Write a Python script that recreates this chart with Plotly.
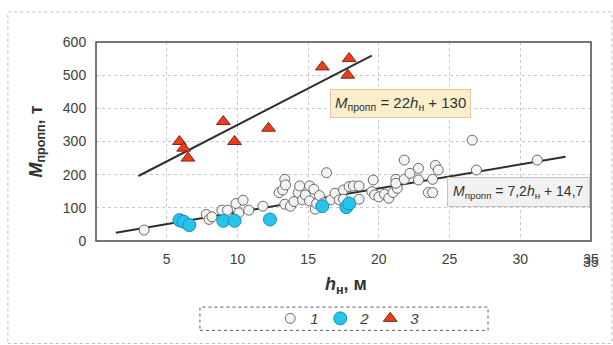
import plotly.graph_objects as go

# Series 1: white circles
s1_x = [3.4, 7.8, 8.0, 8.2, 8.9, 9.3, 9.9, 10.4, 10.1, 10.8, 11.8, 12.95, 13.2, 13.35, 13.4,
        13.35, 13.75, 14.0, 14.3, 14.4, 14.6, 14.8, 15.1, 15.1, 15.4, 15.5, 15.6, 15.8, 16.1,
        16.3, 16.6, 16.9, 17.2, 17.5, 17.5, 17.9, 18.2, 18.6, 18.6, 19.5, 19.6, 19.7, 20.0,
        20.4, 20.7, 21.0, 21.2, 21.3, 21.2, 21.8, 21.8, 22.2, 22.8, 22.8, 23.5, 23.8, 23.8,
        24.0, 24.2, 26.6, 26.9, 31.2]
s1_y = [33, 80, 65, 73, 93, 93, 113, 123, 85, 93, 105, 146, 154, 186, 169,
        111, 105, 119, 146, 166, 124, 139, 166, 121, 156, 96, 113, 137, 115,
        206, 124, 144, 124, 154, 126, 164, 166, 166, 126, 149, 184, 139, 133,
        141, 129, 146, 186, 159, 174, 186, 244, 204, 219, 184, 146, 146, 186,
        228, 214, 304, 214, 244]

# Series 2: blue circles
s2_x = [5.9, 6.2, 6.6, 9.0, 9.8, 12.3, 16.0, 17.7, 17.9]
s2_y = [63, 58, 48, 61, 61, 65, 105, 102, 113]

# Series 3: red triangles
s3_x = [5.9, 6.2, 6.5, 9.0, 9.8, 12.2, 16.0, 17.9, 17.8]
s3_y = [300, 280, 250, 360, 300, 340, 525, 550, 500]

# Trend lines: M = a*h + b
fit3_x = [3.0, 19.5]
fit3_a, fit3_b = 22, 130
fit1_x = [1.4, 33.2]
fit1_a, fit1_b = 7.2, 14.7

x_ticks = [5, 10, 15, 20, 25, 30, 35]
y_ticks = [0, 100, 200, 300, 400, 500, 600]
legend_names = ["1", "2", "3"]

fig = go.Figure()

fig.add_trace(go.Scatter(x=fit1_x, y=[fit1_a * v + fit1_b for v in fit1_x], mode="lines",
                         line=dict(color="#2e2e2e", width=2), showlegend=False, hoverinfo="skip"))
fig.add_trace(go.Scatter(x=fit3_x, y=[fit3_a * v + fit3_b for v in fit3_x], mode="lines",
                         line=dict(color="#2e2e2e", width=2), showlegend=False, hoverinfo="skip"))

fig.add_trace(go.Scatter(x=s1_x, y=s1_y, mode="markers", name=legend_names[0],
                         marker=dict(symbol="circle", size=10, color="#f3f3f3",
                                     line=dict(color="#6a6a6a", width=1))))
fig.add_trace(go.Scatter(x=s2_x, y=s2_y, mode="markers", name=legend_names[1],
                         marker=dict(symbol="circle", size=13, color="#27c3ea",
                                     line=dict(color="#1690b8", width=1))))
fig.add_trace(go.Scatter(x=s3_x, y=s3_y, mode="markers", name=legend_names[2],
                         marker=dict(symbol="triangle-up", size=12, color="#ee3b1b",
                                     line=dict(color="#7a2a1a", width=1))))

tick_font = dict(family="Arial", size=14, color="#404040")
axis_common = dict(showgrid=True, gridcolor="#c9c9c9", griddash="dot", gridwidth=1,
                   zeroline=False, showline=False, automargin=False,
                   ticklabeloverflow="allow", tickfont=tick_font)

fig.update_xaxes(range=[0, 35], tickvals=x_ticks, ticks="outside", ticklen=5,
                 tickcolor="rgba(0,0,0,0)", **axis_common)
fig.update_yaxes(range=[0, 600], tickvals=y_ticks, ticks="outside", ticklen=6,
                 tickcolor="rgba(0,0,0,0)", **axis_common)

# Last x tick label (the axis drops the label at the range edge)
fig.add_annotation(x=x_ticks[-1], y=-0.1055, xref="x", yref="paper", showarrow=False,
                   xanchor="center", yanchor="middle", text=str(x_ticks[-1]), font=tick_font)

# Plot frame
fig.add_shape(type="rect", xref="paper", yref="paper", x0=0, x1=1, y0=0, y1=1,
              line=dict(color="#4a4a4a", width=1.5))
# Outer dotted frame
fig.add_shape(type="rect", xref="paper", yref="paper", x0=-0.178, x1=1.042, y0=-0.515, y1=1.151,
              line=dict(color="#a9c6d6", width=1, dash="dot"), layer="below")
# Legend box
fig.add_shape(type="rect", xref="paper", yref="paper", x0=0.210, x1=0.792, y0=-0.449, y1=-0.332,
              line=dict(color="#5a5a5a", width=1, dash="dot"), fillcolor="white", layer="below")

# Equation boxes
fig.add_annotation(x=21.5, y=416, xref="x", yref="y", showarrow=False,
                   text="<i>M</i><sub>пропп</sub> = 22<i>h</i><sub>н</sub> + 130",
                   font=dict(family="Arial", size=15, color="#333333"),
                   bgcolor="#fbeecb", bordercolor="#dccb9f", borderwidth=1, borderpad=4)
fig.add_annotation(x=29.85, y=148, xref="x", yref="y", showarrow=False,
                   text="<i>M</i><sub>пропп</sub> = 7,2<i>h</i><sub>н</sub> + 14,7",
                   font=dict(family="Arial", size=14, color="#333333"),
                   bgcolor="#f1f1f1", bordercolor="#c4c4c4", borderwidth=1, borderpad=5)

# Axis titles
fig.add_annotation(x=-0.119, y=0.5, xref="paper", yref="paper", showarrow=False, textangle=-90,
                   xanchor="center", yanchor="middle",
                   text="<b><i>M</i></b><sub><b>пропп</b></sub><b>, т</b>",
                   font=dict(family="Arial", size=18, color="#333333"))
fig.add_annotation(x=0.505, y=-0.226, xref="paper", yref="paper", showarrow=False,
                   xanchor="center", yanchor="middle",
                   text="<b><i>h</i></b><sub><b>н</b></sub><b>, м</b>",
                   font=dict(family="Arial", size=18, color="#333333"))

fig.update_layout(
    width=613, height=345,
    margin=dict(l=96, r=22, t=42, b=104, autoexpand=False),
    paper_bgcolor="white", plot_bgcolor="white",
    showlegend=True,
    legend=dict(orientation="h", x=0.352, xanchor="left", y=-0.39, yanchor="middle",
                bgcolor="rgba(0,0,0,0)", borderwidth=0, entrywidth=5, itemwidth=30,
                font=dict(family="Arial", size=15, color="#444444", style="italic"),
                traceorder="normal"),
)

fig.write_html("out.html", config={"displayModeBar": False},
               post_script="document.body.style.margin='0';document.body.style.overflow='hidden';")
